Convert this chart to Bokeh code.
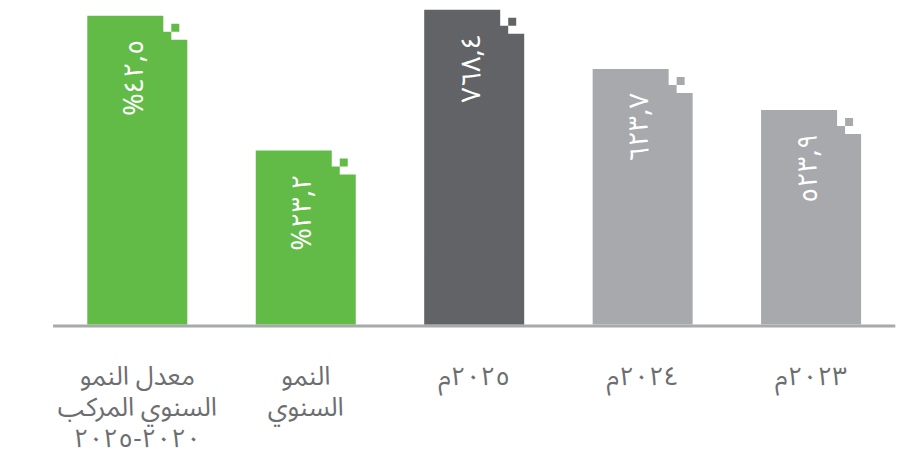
import math
from bokeh.plotting import figure
from bokeh.models import ColumnDataSource, Range1d
from bokeh.core.properties import value
from bokeh.embed import file_html
from bokeh.resources import INLINE

# ---- data ----
categories = [
    "معدل النمو\nالسنوي المركب\n٢٠٢٠-٢٠٢٥",
    "النمو\nالسنوي",
    "٢٠٢٥م",
    "٢٠٢٤م",
    "٢٠٢٣م",
]
value_labels = ["%٤٢,٥", "%٢٣,٢", "٧٦٨,٤", "٦٢٣,٧", "٥٢٣,٩"]
bar_heights = [754.0, 425.0, 768.4, 623.7, 523.9]
bar_colors = ["#62bb46", "#62bb46", "#626366", "#a7a9ac", "#a7a9ac"]

# ---- layout constants ----
W, H = 922, 465
STEP_PX = 168.45              # px between bar centres
FIRST_PX = 136.8              # px of first bar centre
BASE_PX = 324                 # px of the baseline from the top
PX_PER_UNIT = 0.4096          # vertical scale
X0 = -FIRST_PX / STEP_PX
X1 = X0 + W / STEP_PX
Y1 = BASE_PX / PX_PER_UNIT
Y0 = -(H - BASE_PX) / PX_PER_UNIT
ux = 1 / STEP_PX              # data units per px (x)
uy = 1 / PX_PER_UNIT          # data units per px (y)
FONT = "Noto Sans Arabic"
LINE_PX = 31                  # spacing of category label lines
FIRST_BASE_PX = 52            # first baseline below the axis

xs = list(range(len(bar_heights)))

# notched bar outline (pixel offsets from bar centre / top)
outline_dx = [-50, -50, 26, 26, 34, 34, 50, 50]
outline_dy = [None, 0, 0, 16, 16, 24, 24, None]
bar_xs, bar_ys = [], []
for x, h in zip(xs, bar_heights):
    bar_xs.append([x + d * ux for d in outline_dx])
    bar_ys.append([0 if d is None else h - d * uy for d in outline_dy])
bars = ColumnDataSource(dict(xs=bar_xs, ys=bar_ys, color=bar_colors))

sq = ColumnDataSource(dict(
    left=[x + 34 * ux for x in xs], right=[x + 42 * ux for x in xs],
    bottom=[h - 16 * uy for h in bar_heights],
    top=[h - 8 * uy for h in bar_heights], color=bar_colors))

p = figure(width=W, height=H, output_backend="svg", toolbar_location=None,
           x_range=Range1d(X0, X1), y_range=Range1d(Y0, Y1),
           x_axis_location=None, y_axis_location=None,
           min_border=0)
p.outline_line_color = None
p.grid.visible = False
p.background_fill_color = "white"
p.border_fill_color = "white"

# baseline (axis line) spanning the category band
p.segment(x0=[xs[0] - 0.5], x1=[xs[-1] + 0.5], y0=[-1.5 * uy], y1=[-1.5 * uy],
          line_color="#a7a9ac", line_width=3)

p.patches(xs="xs", ys="ys", fill_color="color", line_color=None, source=bars)
p.quad(left="left", right="right", bottom="bottom", top="top",
       fill_color="color", line_color=None, source=sq)

lab = ColumnDataSource(dict(x=[x - 3 * ux for x in xs],
                            y=[h - 24 * uy for h in bar_heights],
                            text=value_labels))
p.text(x="x", y="y", text="text", source=lab, angle=math.pi / 2,
       text_align="right", text_baseline="middle", text_color="white",
       text_font=value(FONT), text_font_size="27px")

# category labels, one row per text line, below the axis
cx, cy, ct = [], [], []
for x, c in zip(xs, categories):
    for k, line in enumerate(c.split("\n")):
        cx.append(x)
        cy.append(-(FIRST_BASE_PX + k * LINE_PX) * uy)
        ct.append(line)
cat_src = ColumnDataSource(dict(x=cx, y=cy, text=ct))
p.text(x="x", y="y", text="text", source=cat_src,
       text_align="center", text_baseline="alphabetic",
       text_font=value(FONT), text_font_size="26px", text_color="#6d6e71")

open("out.html", "w").write(file_html(p, INLINE))
